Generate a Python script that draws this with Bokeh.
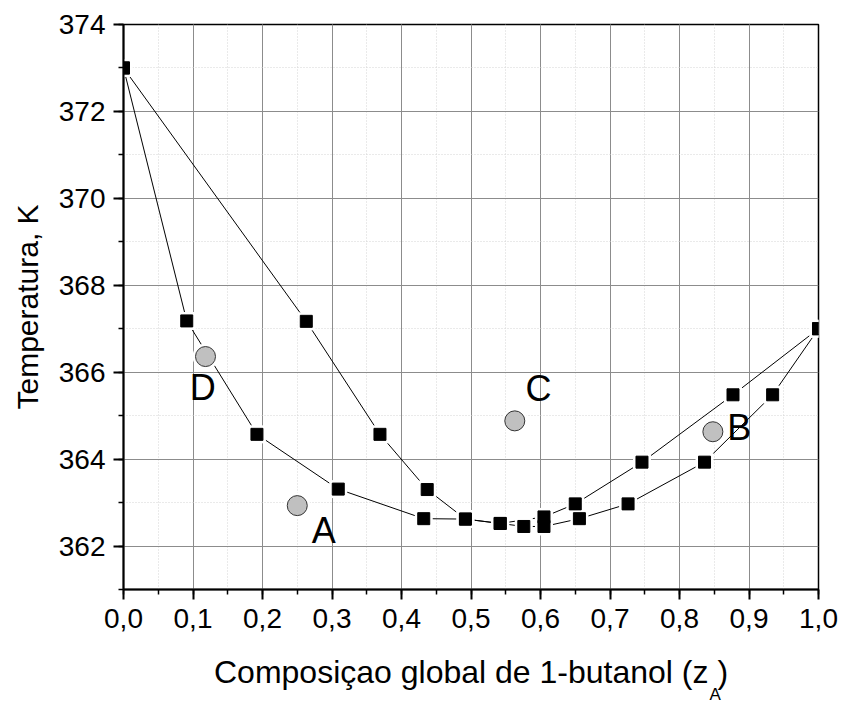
from bokeh.plotting import figure
from bokeh.models import (Range1d, SingleIntervalTicker, CustomJSTickFormatter,
                          Label, Title, ColumnDataSource)
from bokeh.embed import file_html
from bokeh.resources import INLINE

# ---------------- data ----------------
# upper branch (vapour curve)
vap_x = [0.0, 0.263, 0.369, 0.437, 0.492, 0.542, 0.605, 0.650, 0.746, 0.877, 1.0]
vap_t = [373.0, 367.17, 364.57, 363.30, 362.62, 362.52, 362.67, 362.97, 363.93, 365.48, 367.0]
# lower branch (liquid curve)
liq_x = [0.0, 0.091, 0.192, 0.309, 0.432, 0.492, 0.542, 0.576, 0.605, 0.656, 0.726, 0.836, 0.934, 1.0]
liq_t = [373.0, 367.18, 364.57, 363.31, 362.63, 362.62, 362.52, 362.45, 362.45, 362.63, 362.97, 363.93, 365.48, 367.0]
# state points
pt_names = ["A", "B", "C", "D"]
pt_x = [0.250, 0.848, 0.563, 0.118]
pt_t = [362.93, 364.63, 364.88, 366.36]
# where the letters sit (data coords, centre of the letter)
lab_x = [0.288, 0.886, 0.597, 0.114]
lab_t = [362.36, 364.73, 365.63, 365.65]

x_title = "Composiçao global de 1-butanol (z )"
x_sub = "A"
y_title = "Temperatura, K"

FONT = "Liberation Sans"

p = figure(width=843, height=702, output_backend="svg", toolbar_location=None,
           x_range=Range1d(0, 1.0), y_range=Range1d(361, 374),
           min_border_left=123, min_border_right=25, min_border_top=24,
           min_border_bottom=113, background_fill_color="white",
           border_fill_color="white")

p.outline_line_color = "black"
p.outline_line_width = 1.5

p.xaxis.ticker = SingleIntervalTicker(interval=0.1, num_minor_ticks=2)
p.yaxis.ticker = SingleIntervalTicker(interval=2, num_minor_ticks=2)
p.xaxis.formatter = CustomJSTickFormatter(code="return tick.toFixed(1).replace('.', ',');")
p.yaxis.formatter = CustomJSTickFormatter(code="return tick.toFixed(0);")

for ax in (p.xaxis, p.yaxis):
    ax.axis_line_width = 2
    ax.axis_line_color = "black"
    ax.major_tick_out = 10
    ax.major_tick_in = 0
    ax.minor_tick_out = 5
    ax.minor_tick_in = 0
    ax.major_tick_line_width = 2
    ax.minor_tick_line_width = 1.5
    ax.major_tick_line_color = "black"
    ax.minor_tick_line_color = "black"
    ax.major_label_text_font = FONT
    ax.major_label_text_font_size = "28px"
    ax.major_label_text_color = "black"
    ax.axis_label_text_font = FONT
    ax.axis_label_text_font_style = "normal"
    ax.axis_label_text_color = "black"

p.yaxis.axis_label_text_font_size = "30px"
p.xaxis.axis_label_text_font_size = "32px"
p.yaxis.major_label_standoff = 8
p.xaxis.major_label_standoff = 9
p.yaxis.axis_label = y_title
p.yaxis.axis_label_standoff = 12
p.xaxis.axis_label = x_title
p.xaxis.axis_label_standoff = 23

for g in (p.xgrid, p.ygrid):
    g.grid_line_color = "#8c8c8c"
    g.grid_line_width = 1
    g.minor_grid_line_color = "#d4d4d4"
    g.minor_grid_line_dash = "1 2"
    g.minor_grid_line_width = 1

vap = ColumnDataSource(dict(x=vap_x, t=vap_t))
liq = ColumnDataSource(dict(x=liq_x, t=liq_t))
pts = ColumnDataSource(dict(x=pt_x, t=pt_t))

p.line("x", "t", source=vap, line_color="black", line_width=1)
p.line("x", "t", source=liq, line_color="black", line_width=1)

# white halos so lines stop short of markers
for src in (vap, liq):
    p.scatter("x", "t", source=src, marker="square", size=18,
              fill_color="white", line_color=None)
p.scatter("x", "t", source=pts, marker="circle", size=26,
          fill_color="white", line_color=None)

for src in (vap, liq):
    p.scatter("x", "t", source=src, marker="square", size=12,
              fill_color="black", line_color="black", line_width=1)
p.scatter("x", "t", source=pts, marker="circle", size=20,
          fill_color="#c0c0c0", line_color="#333333", line_width=1)

for name, lx, lt in zip(pt_names, lab_x, lab_t):
    p.add_layout(Label(x=lx, y=lt, text=name, text_align="center",
                       text_baseline="middle", text_font=FONT,
                       text_font_size="36px", text_color="black"))

# subscript of the x-axis title
p.add_layout(Title(text=x_sub, align="left", offset=586, standoff=-22,
                   text_font=FONT, text_font_size="17px",
                   text_font_style="normal", text_color="black"), "below")

open("out.html", "w").write(file_html(p, INLINE))
